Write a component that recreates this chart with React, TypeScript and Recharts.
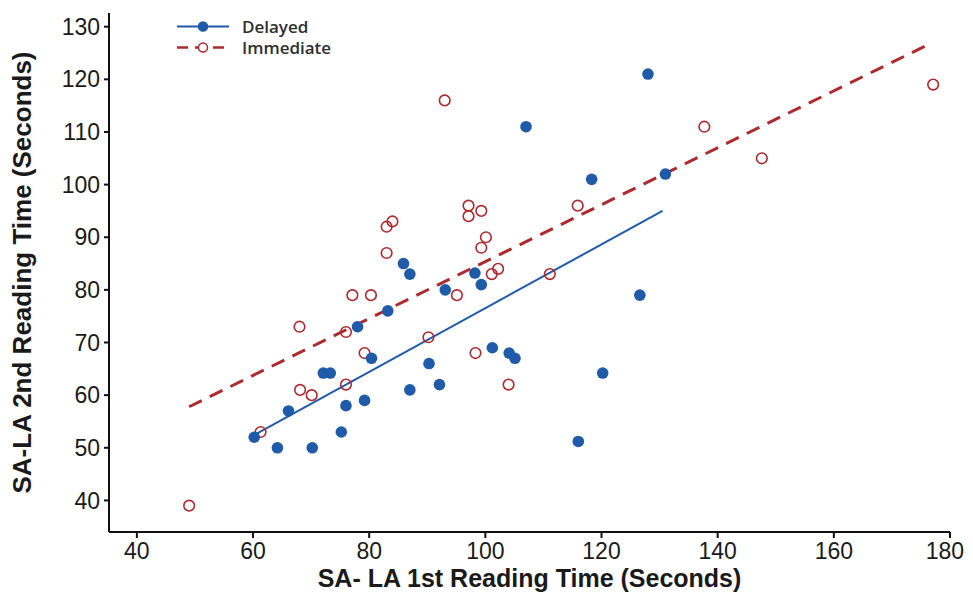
import { ScatterChart, Scatter, XAxis, YAxis } from "recharts";

const xTicks = [40, 60, 80, 100, 120, 140, 160, 180];
const yTicks = [40, 50, 60, 70, 80, 90, 100, 110, 120, 130];

// Delayed group (filled dots)
const delayedX = [
  60.2, 64.2, 66.1, 70.2, 72.1, 73.3, 75.2, 76.0, 78.0, 79.2, 80.4, 83.2, 85.9, 87.0, 87.0,
  90.3, 92.1, 93.1, 98.2, 99.3, 101.2, 104.1, 105.1, 107.0, 116.0, 118.3, 120.2, 126.6, 128.0, 131.0,
];
const delayedY = [
  52, 50, 57, 50, 64.2, 64.2, 53, 58, 73, 59, 67, 76, 85, 83, 61,
  66, 62, 80, 83.2, 81, 69, 68, 67, 111, 51.2, 101, 64.2, 79, 121, 102,
];

// Immediate group (open circles)
const immediateX = [
  49, 61.3, 68.0, 68.1, 70.1, 76.0, 76.0, 77.1, 79.2, 80.3, 83.0, 84.0, 83.0, 90.2, 93.0,
  95.1, 97.1, 97.1, 98.3, 99.3, 99.3, 100.1, 101.1, 102.2, 104.0, 111.1, 115.9, 137.7, 147.6, 177.1,
];
const immediateY = [
  39, 53, 73, 61, 60, 72, 62, 79, 68, 79, 92, 93, 87, 71, 116,
  79, 96, 94, 68, 95, 88, 90, 83, 84, 62, 83, 96, 111, 105, 119,
];

// fitted lines (end points)
const delayedFitX = [60, 130.5];
const delayedFitY = [52.3, 95];
const immediateFitX = [49, 177];
const immediateFitY = [57.8, 127];

const toPoints = (xs: number[], ys: number[]) => xs.map((x, i) => ({ x, y: ys[i] }));

const BLUE = "#1f5ba8";
const RED = "#ad2a2e";
const AXIS = "#111";

const tickStyle = { fontFamily: "'Liberation Sans', Arial, sans-serif", fontSize: 23, fill: "#1a1a1a" };
const titleStyle = {
  fontFamily: "'Liberation Sans', Arial, sans-serif",
  fontSize: 25,
  fontWeight: 700,
  fill: "#1a1a1a",
  textAnchor: "middle" as const,
};

// last x label is pulled in a little so it is not cut at the page edge
const XTick = (props: any) => {
  const { x, y, payload } = props;
  const last = payload.value === xTicks[xTicks.length - 1];
  return (
    <text x={last ? x + 14 : x} y={y} dy="0.71em" textAnchor={last ? "end" : "middle"} {...tickStyle}>
      {payload.value}
    </text>
  );
};

const FilledDot = (props: any) => <circle cx={props.cx} cy={props.cy} r={5.8} fill={BLUE} />;
const OpenDot = (props: any) => (
  <circle cx={props.cx} cy={props.cy} r={5.3} fill="none" stroke={RED} strokeWidth={1.6} />
);
const NoDot = () => <g />;

const legendItems = [
  { name: "Delayed", color: BLUE, dashed: false, filled: true },
  { name: "Immediate", color: RED, dashed: true, filled: false },
];

const LegendBox = () => (
  <div
    style={{
      position: "absolute",
      top: 16,
      left: 176,
      fontFamily: "'Open Sans', sans-serif",
      fontWeight: 600,
      fontSize: 17,
      color: "#2e2e2e",
      lineHeight: "21px",
    }}
  >
    {legendItems.map((item) => (
      <div key={item.name} style={{ display: "flex", alignItems: "center" }}>
        <svg width={54} height={21}>
          <line
            x1={1}
            y1={10.5}
            x2={53}
            y2={10.5}
            stroke={item.color}
            strokeWidth={item.dashed ? 2.5 : 2}
            strokeDasharray={item.dashed ? "11 7" : undefined}
          />
          <circle
            cx={27}
            cy={10.5}
            r={4.5}
            fill={item.filled ? item.color : "white"}
            stroke={item.color}
            strokeWidth={1.5}
          />
        </svg>
        <span style={{ marginLeft: 12 }}>{item.name}</span>
      </div>
    ))}
  </div>
);

export default function App() {
  return (
    <div style={{ position: "relative", width: 973, height: 603, margin: -8 }}>
      <ScatterChart width={973} height={603} margin={{ top: 13, right: 23, bottom: 0, left: 0 }}>
        <XAxis
          type="number"
          dataKey="x"
          domain={[35.2, 180]}
          ticks={xTicks}
          allowDataOverflow
          height={71}
          tickSize={6}
          tickMargin={5}
          axisLine={{ stroke: AXIS, strokeWidth: 2 }}
          tickLine={{ stroke: AXIS, strokeWidth: 2 }}
          tick={<XTick />}
          label={{
            value: "SA- LA 1st Reading Time (Seconds)",
            position: "insideBottom",
            offset: 16,
            style: titleStyle,
          }}
        />
        <YAxis
          type="number"
          dataKey="y"
          domain={[34, 132.6]}
          ticks={yTicks}
          allowDataOverflow
          width={109}
          tickSize={5}
          tickMargin={4}
          axisLine={{ stroke: AXIS, strokeWidth: 2 }}
          tickLine={{ stroke: AXIS, strokeWidth: 2 }}
          tick={tickStyle}
          label={{
            value: "SA-LA 2nd Reading Time (Seconds)",
            angle: -90,
            position: "insideLeft",
            offset: 22,
            style: { ...titleStyle, fontSize: 26 },
          }}
        />
        <Scatter
          name="Immediate fit"
          data={toPoints(immediateFitX, immediateFitY)}
          line={{ stroke: RED, strokeWidth: 3, strokeDasharray: "14 9" }}
          shape={NoDot}
          legendType="none"
          isAnimationActive={false}
        />
        <Scatter
          name="Delayed fit"
          data={toPoints(delayedFitX, delayedFitY)}
          line={{ stroke: BLUE, strokeWidth: 2 }}
          shape={NoDot}
          legendType="none"
          isAnimationActive={false}
        />
        <Scatter
          name="Immediate"
          data={toPoints(immediateX, immediateY)}
          shape={OpenDot}
          isAnimationActive={false}
        />
        <Scatter
          name="Delayed"
          data={toPoints(delayedX, delayedY)}
          shape={FilledDot}
          isAnimationActive={false}
        />
      </ScatterChart>
      <LegendBox />
    </div>
  );
}
